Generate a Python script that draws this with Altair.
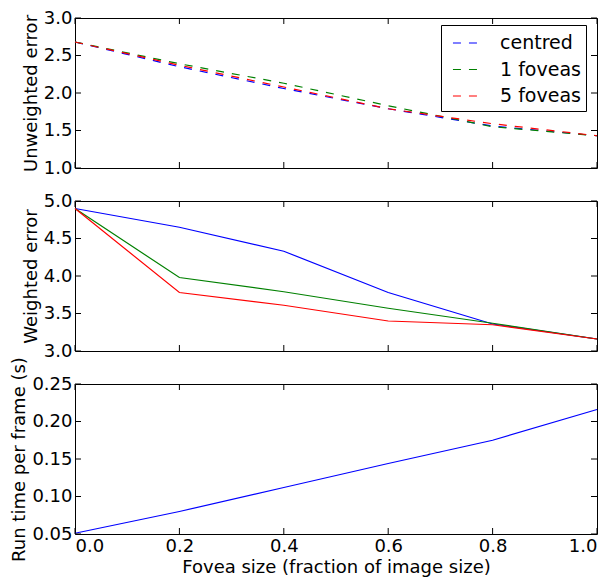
import altair as alt
import pandas as pd

fovea = [0.0, 0.2, 0.4, 0.6, 0.8, 1.0]
series = ["centred", "1 foveas", "5 foveas"]
colors = ["#0000ff", "#008000", "#ff0000"]

unweighted_centred = [2.68, 2.35, 2.06, 1.79, 1.56, 1.43]
unweighted_one = [2.68, 2.39, 2.13, 1.83, 1.55, 1.43]
unweighted_five = [2.68, 2.37, 2.08, 1.79, 1.59, 1.43]

weighted_centred = [4.90, 4.65, 4.33, 3.78, 3.36, 3.16]
weighted_one = [4.90, 3.98, 3.79, 3.57, 3.37, 3.16]
weighted_five = [4.90, 3.78, 3.61, 3.40, 3.35, 3.16]

runtime = [0.051, 0.080, 0.112, 0.144, 0.175, 0.216]

x_ticks = [0.0, 0.2, 0.4, 0.6, 0.8, 1.0]
unweighted_ticks = [1.0, 1.5, 2.0, 2.5, 3.0]
weighted_ticks = [3.0, 3.5, 4.0, 4.5, 5.0]
runtime_ticks = [0.05, 0.10, 0.15, 0.20, 0.25]

W = 522
FONT = "DejaVu Sans"
FS = 18
LFS = 19
TICK = 6


def long_df(cols):
    rows = []
    for name, vals in zip(series, cols):
        for i, (x, y) in enumerate(zip(fovea, vals)):
            rows.append({"x": x, "y": y, "s": name, "o": i})
    return pd.DataFrame(rows)


def panel(df, ytitle, ydomain, yticks, fmt, show_x, dash, with_legend, H):
    xscale = alt.Scale(domain=[0, 1], nice=False, zero=False)
    yscale = alt.Scale(domain=ydomain, nice=False, zero=False)
    if show_x:
        xaxis = alt.Axis(values=x_ticks, format=".1f",
                         title="Fovea size (fraction of image size)")
    else:
        xaxis = None
    yaxis = alt.Axis(values=yticks, format=fmt, title=ytitle)
    mark_kw = dict(strokeWidth=1.2)
    if dash:
        mark_kw["strokeDash"] = dash
    enc = dict(
        x=alt.X("x:Q", scale=xscale, axis=xaxis),
        y=alt.Y("y:Q", scale=yscale, axis=yaxis),
        order="o:Q",
    )
    if with_legend:
        leg_kw = dict(
            title=None, orient="none", legendX=366, legendY=7,
            symbolType="M-1.17,0L1.17,0", symbolSize=576,
            symbolStrokeWidth=1.2, symbolOffset=8, labelOffset=20,
            labelFontSize=LFS, labelFont=FONT, labelColor="black",
            padding=5, rowPadding=3.5, strokeColor="black",
            fillColor="white", cornerRadius=0,
        )
        if dash:
            leg_kw["symbolDash"] = dash
        enc["color"] = alt.Color(
            "s:N", sort=series,
            scale=alt.Scale(domain=series, range=colors),
            legend=alt.Legend(**leg_kw),
        )
    else:
        mark_kw["color"] = colors[0]
    line = alt.Chart(df).mark_line(**mark_kw).encode(**enc)

    xt = pd.DataFrame({"x": x_ticks})
    yt = pd.DataFrame({"y": yticks})
    tx = alt.X("x:Q", scale=xscale, axis=xaxis)
    ty = alt.Y("y:Q", scale=yscale, axis=yaxis)
    top = alt.Chart(xt).mark_rule(color="black", strokeWidth=1).encode(
        x=tx, y=alt.value(0), y2=alt.value(TICK))
    bot = alt.Chart(xt).mark_rule(color="black", strokeWidth=1).encode(
        x=tx, y=alt.value(H - TICK), y2=alt.value(H))
    left = alt.Chart(yt).mark_rule(color="black", strokeWidth=1).encode(
        y=ty, x=alt.value(0), x2=alt.value(TICK))
    right = alt.Chart(yt).mark_rule(color="black", strokeWidth=1).encode(
        y=ty, x=alt.value(W - TICK), x2=alt.value(W))
    return alt.layer(line, top, bot, left, right).properties(width=W, height=H)


p1 = panel(long_df([unweighted_centred, unweighted_one, unweighted_five]),
           "Unweighted error", [1.0, 3.0], unweighted_ticks, ".1f",
           False, [8, 8], True, 150)
p2 = panel(long_df([weighted_centred, weighted_one, weighted_five]),
           "Weighted error", [3.0, 5.0], weighted_ticks, ".1f",
           False, None, True, 150)
p3 = panel(pd.DataFrame({"x": fovea, "y": runtime, "s": "run", "o": range(6)}),
           "Run time per frame (s)", [0.05, 0.25], runtime_ticks, ".2f",
           True, None, False, 150)

chart = alt.vconcat(p1, p2, p3, spacing=33, bounds="flush").properties(
    padding={"left": 2, "top": 0, "right": 0, "bottom": 0},
    background="white",
).configure_view(
    stroke="black", strokeWidth=1
).configure_axis(
    labelFont=FONT, titleFont=FONT, labelFontSize=FS, titleFontSize=FS,
    titleFontWeight="normal", labelColor="black", titleColor="black",
    ticks=False, domain=False, grid=False, labelPadding=3, titlePadding=3,
)

chart.save("out.html", embed_options={"renderer": "svg", "actions": False})
